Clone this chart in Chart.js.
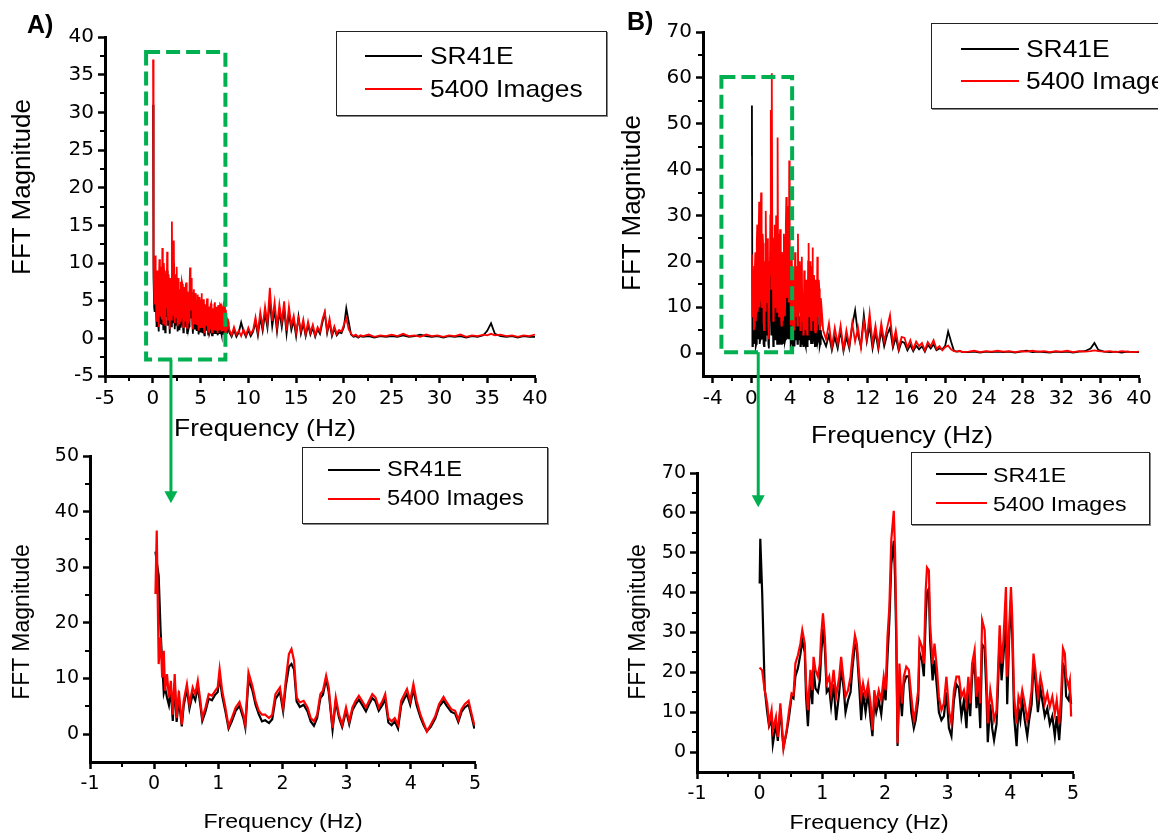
<!DOCTYPE html>
<html lang="en">
<head>
<meta charset="utf-8">
<title>FFT Magnitude - SR41E vs 5400 Images</title>
<script src="https://cdn.jsdelivr.net/npm/chart.js@4.4.1/dist/chart.umd.min.js"></script>
<style>
  html, body { margin: 0; padding: 0; background: #fff; }
  body { position: relative; width: 1158px; height: 837px; overflow: hidden; font-family: "Liberation Sans", Arial, sans-serif; color: #000; }
  .panel { position: absolute; }
  .panel canvas { display: block; }
  .txt { position: absolute; white-space: nowrap; line-height: 1; z-index: 4; }
  .xtitle { transform: translate(-50%, -50%) scaleX(1.1); }
  .ytitle { transform: translate(-50%, -50%) rotate(-90deg); }
  .tag { font-weight: bold; font-size: 25px; }
  .legend { position: absolute; border: 1.5px solid #222; background: #fff; box-shadow: 1px 1px 0 #888; z-index: 3; }
  .legend .ln { position: absolute; }
  .legend .lt { position: absolute; white-space: nowrap; line-height: 1; transform: translateY(-50%) scaleX(1.1); transform-origin: left center; }
  #setas { position: absolute; left: 0; top: 0; z-index: 2; pointer-events: none; }
</style>
</head>
<body>

<div class="txt tag" style="left:27px; top:12px;">A)</div>
<div class="txt tag" style="left:627px; top:9px;">B)</div>

<div class="txt ytitle" style="left:21px; top:187px; font-size:26px;">FFT Magnitude</div>
<div class="txt xtitle" style="left:265px; top:428px; font-size:24px;">Frequency (Hz)</div>
<div class="txt ytitle" style="left:631px; top:203px; font-size:26px;">FFT Magnitude</div>
<div class="txt xtitle" style="left:902px; top:435px; font-size:24px;">Frequency (Hz)</div>
<div class="txt ytitle" style="left:21px; top:622px; font-size:23px;">FFT Magnitude</div>
<div class="txt xtitle" style="left:283px; top:820px; font-size:21px;">Frequency (Hz)</div>
<div class="txt ytitle" style="left:637px; top:622px; font-size:23px;">FFT Magnitude</div>
<div class="txt xtitle" style="left:869px; top:821px; font-size:21px;">Frequency (Hz)</div>

<svg id="setas" width="1158" height="837"></svg>

<script>
// the two series in every panel
const seriesNames = ['SR41E', '5400 Images'];
const seriesColors = ['#000000', '#ff0000'];
const boxColor = '#00b050';

// ---- A) full spectrum, 0-40 Hz ----
const aFullFreq = [
  0.03, 0.06,
  0.1, 0.15, 0.2, 0.25, 0.3, 0.35, 0.4, 0.45, 0.5, 0.55, 0.6, 0.65, 0.7, 0.75, 0.8, 0.85, 0.9, 0.95,
  1.0, 1.05, 1.1, 1.15, 1.2, 1.25, 1.3, 1.35, 1.4, 1.45, 1.5, 1.55, 1.6, 1.65, 1.7, 1.75, 1.8, 1.85, 1.9, 1.95,
  2.0, 2.05, 2.1, 2.15, 2.2, 2.25, 2.3, 2.35, 2.4, 2.45, 2.5, 2.55, 2.6, 2.65, 2.7, 2.75, 2.8, 2.85, 2.9, 2.95,
  3.0, 3.05, 3.1, 3.15, 3.2, 3.25, 3.3, 3.35, 3.4, 3.45, 3.5, 3.55, 3.6, 3.65, 3.7, 3.75, 3.8, 3.85, 3.9, 3.95,
  4.0, 4.05, 4.1, 4.15, 4.2, 4.25, 4.3, 4.35, 4.4, 4.45, 4.5, 4.55, 4.6, 4.65, 4.7, 4.75, 4.8, 4.85, 4.9, 4.95,
  5.0, 5.05, 5.1, 5.15, 5.2, 5.25, 5.3, 5.35, 5.4, 5.45, 5.5, 5.55, 5.6, 5.65, 5.7, 5.75, 5.8, 5.85, 5.9, 5.95,
  6.0, 6.05, 6.1, 6.15, 6.2, 6.25, 6.3, 6.35, 6.4, 6.45, 6.5, 6.55, 6.6, 6.65, 6.7, 6.75, 6.8, 6.85, 6.9, 6.95,
  7.0, 7.05, 7.1, 7.15, 7.2, 7.25, 7.3, 7.35, 7.4, 7.45, 7.5, 7.55, 7.6, 7.65, 7.7, 7.75, 7.8, 7.85, 7.9, 7.95,
  8.0, 8.25, 8.5, 8.75, 9.0, 9.25, 9.5, 9.75, 10.0,
  10.25, 10.5, 10.75, 11.0, 11.25, 11.5, 11.75, 12.0, 12.25, 12.5,
  12.75, 13.0, 13.25, 13.5, 13.75, 14.0, 14.25, 14.5, 14.75, 15.0,
  15.25, 15.5, 15.75, 16.0, 16.25, 16.5, 16.75, 17.0, 17.25, 17.5,
  17.75, 18.0, 18.25, 18.5, 18.75, 19.0, 19.25, 19.5, 19.75, 20.0,
  20.25, 20.5, 20.75, 21.0, 21.25, 21.5, 21.75,
  22.0, 22.6, 23.2, 23.8, 24.4, 25.0, 25.6, 26.2, 26.8, 27.4,
  28.0, 28.6, 29.2, 29.8, 30.4, 31.0, 31.6, 32.2, 32.8, 33.4,
  34.0, 34.6, 35.0, 35.4, 35.8, 36.4, 37.0, 37.6, 38.2, 38.8,
  39.4, 40.0
];
const aFullSR41E = [
  31, 14,
  8, 4, 3.5, 8.5, 7.5, 3.5, 1.5, 7, 6.5, 2.4, 0.9, 5.5, 8, 3, 2, 7.5, 4.5, 1.8,
  9.5, 3.8, 1.2, 8, 6.5, 2.5, 0.8, 5.8, 7, 2.8, 9, 4.5, 1.8, 6.5, 5.5, 2, 0.6, 6, 5, 1.6,
  12.5, 3.8, 2, 7, 10, 3.4, 1.2, 6.5, 5.5, 1.8, 7.5, 3.4, 0.9, 6, 4.5, 1.2, 1.5, 5, 6, 1.4,
  2.4, 5.8, 5.5, 2.2, 0.8, 4.6, 5.2, 1.5, 2, 5.4, 5.8, 2.2, 0.7, 4.8, 4.2, 1.3, 1.6, 5.4, 7.2, 3,
  2.8, 6.2, 5.4, 1.8, 0.6, 4.2, 5, 1.3, 1.8, 4.6, 4, 1.5, 1, 3.8, 4.4, 1.5, 0.5, 4.2, 3.4, 0.9,
  1.2, 4, 4.6, 1.7, 0.8, 3.5, 4, 1.1, 0.4, 3.4, 3, 1, 1.4, 3.6, 4, 1.3, 0.5, 3.2, 2.9, 0.7,
  0.9, 3.3, 3.5, 1, 0.4, 3, 2.4, 0.7, 1.1, 3.4, 3.6, 1.1, 0.6, 2.9, 3.2, 0.9, 0.4, 3.3, 2.7, 0.7,
  0.9, 3.4, 3.3, 0.8, 0.5, 3.1, 2.9, 0.6, 0.7, 3.5, 3.7, 0.9, 0.3, 2.8, 1.7, 0.6, 1.2, 1.9, 1.6, 1.1,
  0.8, 0.2, 1.1, 0.2, 0.8, 2.1, 0.9, 0.2, 1.1,
  0.3, 0.9, 2.2, 0.4, 2.8, 1.0, 3.3, 1.4, 5.0, 1.6,
  3.8, 0.9, 3.6, 1.5, 3.9, 0.6, 3.4, 1.1, 2.4, 0.3,
  2.9, 0.6, 2.0, 0.3, 1.8, 0.5, 1.4, 0.2, 1.2, 0.6,
  2.1, 3.4, 0.7, 2.2, 0.3, 1.3, 0.4, 0.8, 0.7, 1.5,
  4.0, 2.2, 0.5, 0.2, 0.3, 0.1, 0.3,
  0.2, 0.3, 0.1, 0.3, 0.2, 0.3, 0.2, 0.4, 0.2, 0.3,
  0.5, 0.3, 0.2, 0.3, 0.1, 0.3, 0.2, 0.3, 0.1, 0.3,
  0.2, 0.4, 1.0, 2.0, 0.6, 0.3, 0.2, 0.3, 0.1, 0.3,
  0.2, 0.2
];
const aFullImages = [
  37, 15.3,
  10, 5.5, 4.5, 11, 9.5, 5, 2.2, 9, 8, 3.5, 1.5, 7, 10.5, 4, 3, 9.5, 6, 2.5,
  12, 5, 2, 10, 8.5, 3.5, 1.8, 7.5, 9, 4, 11.5, 6, 2.5, 8.5, 7.5, 3, 1.2, 8, 6.5, 2.5,
  15.5, 5, 3, 9, 13, 4.5, 2, 8.5, 7, 2.8, 9.5, 4.5, 1.6, 8, 6, 2, 2.5, 6.5, 7.5, 2.2,
  3.2, 7.5, 7.2, 3, 1.5, 6, 6.8, 2.2, 2.8, 7, 7.4, 3, 1.4, 6.2, 5.5, 2, 2.5, 7, 9.4, 4,
  3.8, 8, 7, 2.5, 1.2, 5.5, 6.5, 2, 2.6, 6, 5.3, 2.2, 1.8, 5, 5.8, 2.2, 1.0, 5.5, 4.5, 1.5,
  2.0, 5.2, 6.0, 2.4, 1.5, 4.6, 5.2, 1.8, 0.8, 4.5, 4.0, 1.6, 2.2, 4.8, 5.3, 2, 0.9, 4.2, 3.8, 1.2,
  1.5, 4.4, 4.6, 1.6, 0.8, 4, 3.2, 1.2, 1.8, 4.5, 4.8, 1.8, 1.0, 3.8, 4.2, 1.5, 0.7, 4.4, 3.6, 1.2,
  1.5, 4.5, 4.4, 1.4, 0.9, 4.1, 3.9, 1.1, 1.2, 4.6, 4.9, 1.5, 0.6, 3.8, 2.3, 1.0, 1.8, 2.6, 2.2, 1.6,
  1.2, 0.4, 1.5, 0.5, 1.0, 0.3, 1.2, 0.4, 1.4,
  0.6, 1.1, 2.8, 0.8, 3.5, 1.5, 4.2, 2.0, 6.7, 2.3,
  4.8, 1.5, 4.5, 2.2, 4.9, 1.0, 4.2, 1.7, 3.0, 0.7,
  2.6, 1.0, 2.5, 0.5, 2.2, 0.8, 1.8, 0.4, 1.5, 0.9,
  2.5, 3.5, 1.0, 2.6, 0.5, 1.6, 0.6, 1.1, 0.9, 1.8,
  2.7, 1.2, 0.6, 0.3, 0.5, 0.2, 0.4,
  0.3, 0.5, 0.2, 0.4, 0.3, 0.5, 0.3, 0.6, 0.3, 0.4,
  0.2, 0.5, 0.3, 0.4, 0.2, 0.4, 0.3, 0.5, 0.2, 0.4,
  0.3, 0.5, 0.4, 0.6, 0.4, 0.5, 0.3, 0.4, 0.2, 0.4,
  0.3, 0.5
];
const aFullXTicks = [-5, 0, 5, 10, 15, 20, 25, 30, 35, 40];
const aFullYTicks = [-5, 0, 5, 10, 15, 20, 25, 30, 35, 40];
const aFullXMinor = [-2.5, 2.5, 7.5, 12.5, 17.5, 22.5, 27.5, 32.5, 37.5];
const aFullYMinor = [-2.5, 2.5, 7.5, 12.5, 17.5, 22.5, 27.5, 32.5, 37.5];

// ---- B) full spectrum, 0-40 Hz ----
const bFullFreq = [
  0.0, 0.05, 0.1, 0.15, 0.2, 0.25, 0.3, 0.35, 0.4, 0.45, 0.5, 0.55, 0.6, 0.65, 0.7, 0.75, 0.8, 0.85, 0.9, 0.95,
  1.0, 1.05, 1.1, 1.15, 1.2, 1.25, 1.3, 1.35, 1.4, 1.45, 1.5, 1.55, 1.6, 1.65, 1.7, 1.75, 1.8, 1.85, 1.9, 1.95,
  2.0, 2.05, 2.1, 2.15, 2.2, 2.25, 2.3, 2.35, 2.4, 2.45, 2.5, 2.55, 2.6, 2.65, 2.7, 2.75, 2.8, 2.85, 2.9, 2.95,
  3.0, 3.05, 3.1, 3.15, 3.2, 3.25, 3.3, 3.35, 3.4, 3.45, 3.5, 3.55, 3.6, 3.65, 3.7, 3.75, 3.8, 3.85, 3.9, 3.95,
  4.0, 4.05, 4.1, 4.15, 4.2, 4.25, 4.3, 4.35, 4.4, 4.45, 4.5, 4.55, 4.6, 4.65, 4.7, 4.75, 4.8, 4.85, 4.9, 4.95,
  5.0, 5.05, 5.1, 5.15, 5.2, 5.25, 5.3, 5.35, 5.4, 5.45, 5.5, 5.55, 5.6, 5.65, 5.7, 5.75, 5.8, 5.85, 5.9, 5.95,
  6.0, 6.05, 6.1, 6.15, 6.2, 6.25, 6.3, 6.35, 6.4, 6.45, 6.5, 6.55, 6.6, 6.65, 6.7, 6.75, 6.8, 6.85, 6.9, 6.95,
  7.0, 7.05, 7.1, 7.15, 7.2, 7.4, 7.7, 8.0, 8.3, 8.6, 8.9,
  9.2, 9.5, 9.8, 10.1, 10.4, 10.7, 11.0, 11.3, 11.6, 11.9,
  12.2, 12.5, 12.8, 13.1, 13.4, 13.7, 14.0, 14.3, 14.6, 14.9,
  15.2, 15.5, 15.8, 16.1, 16.4, 16.7, 17.0, 17.3, 17.6, 17.9,
  18.2, 18.5, 18.8, 19.1, 19.4, 19.7, 20.0, 20.3, 20.6, 20.9,
  21.2, 21.5, 21.8, 22.4, 23.0, 23.6, 24.2, 24.8, 25.4, 26.0,
  26.6, 27.2, 27.8, 28.4, 29.0, 29.6, 30.2, 30.8, 31.4, 32.0,
  32.6, 33.2, 33.8, 34.4, 35.0, 35.4, 35.8, 36.4, 37.0, 37.6,
  38.2, 38.8, 39.4, 40.0
];
const bFullSR41E = [
  43, 54, 1.5, 10, 15.5, 2, 4, 11, 9, 1.5, 2, 10, 14, 3, 5, 12, 11, 2, 3, 9,
  13, 3, 4, 10, 9, 2, 1.5, 9, 8, 2.5, 15, 4, 5, 11, 10, 2, 1, 8, 7, 12,
  19, 4, 22, 8, 9, 1.5, 2, 10, 11, 3, 5, 12, 9, 2, 17, 6, 10, 2, 4, 10,
  11, 3, 2, 9, 8, 2, 4, 11, 10, 2.5, 3, 11, 12, 3, 5, 12, 13, 3, 16, 5,
  8, 2, 2.5, 8, 7, 1.5, 1.5, 7, 6, 1.5, 9, 3, 3, 8, 6, 2, 10, 3, 4, 8,
  7, 1.5, 2, 7, 8, 2, 5, 1.5, 3, 7, 7, 2, 1.5, 6, 6, 1.5, 2.5, 8, 9, 3,
  5, 8, 7, 2, 2, 8, 9, 2, 4, 7, 6, 1.5, 1.5, 6, 5, 1.5, 8, 2.5, 3, 6,
  6, 1.5, 2, 5, 4, 3, 1.5, 4, 0.6, 3.5, 1,
  5, 0.4, 3.5, 1, 6, 9.3, 4, 1.5, 8.3, 2.5,
  6, 1, 4.5, 0.8, 5, 1.5, 4, 5.5, 1.2, 3.5,
  0.5, 2.5, 2.2, 0.6, 1.8, 0.4, 1.6, 0.8, 1.5, 0.3,
  1.8, 1, 1.9, 0.6, 1.0, 0.8, 1.6, 4.7, 2.5, 0.5,
  0.3, 0.4, 0.2, 0.2, 0.3, 0.1, 0.3, 0.2, 0.3, 0.2,
  0.3, 0.1, 0.3, 0.5, 0.2, 0.3, 0.2, 0.1, 0.3, 0.2,
  0.3, 0.1, 0.3, 0.4, 1.0, 2.2, 0.7, 0.3, 0.2, 0.3,
  0.1, 0.3, 0.2, 0.2
];
const bFullImages = [
  21, 21.5, 8, 19, 16, 5, 6, 18, 22, 7, 9, 24, 28, 9, 12, 27, 33, 10, 14, 30,
  35, 12, 10, 26, 24, 7, 5, 20, 19, 9, 31, 14, 11, 25, 23, 6, 3, 20, 17, 30,
  53, 14, 61, 25, 20, 7, 8, 25, 28, 10, 14, 30, 22, 9, 47, 18, 26, 8, 12, 27,
  24, 9, 6, 22, 20, 7, 10, 26, 23, 8, 13, 28, 34, 12, 16, 30, 32, 11, 42, 15,
  20, 6, 10, 21, 18, 4, 5, 17, 14, 5, 22, 10, 8, 19, 15, 6, 26, 9, 11, 20,
  17, 5, 6, 19, 21, 7, 13, 4, 9, 18, 17, 6, 5, 16, 14, 4, 7, 20, 24, 8,
  12, 20, 18, 5, 6, 19, 23, 7, 10, 17, 15, 5, 4.5, 16, 12, 5, 21, 8, 9, 16,
  14, 5, 6, 12, 11, 5, 3, 6.5, 1.2, 5.5, 2,
  6, 0.8, 5, 1.5, 6.5, 2.5, 5.5, 1.2, 7, 3,
  8.7, 2, 6, 1.5, 6.5, 2.5, 5.5, 8.3, 2, 5,
  1, 3.5, 3.3, 1.2, 2.8, 0.8, 2.5, 1.5, 2.2, 0.6,
  2.4, 1.5, 2.8, 0.9, 1.5, 0.6, 1.3, 1.6, 0.8, 0.4,
  0.3, 0.5, 0.2, 0.3, 0.5, 0.2, 0.4, 0.3, 0.5, 0.3,
  0.4, 0.2, 0.4, 0.3, 0.5, 0.3, 0.4, 0.2, 0.4, 0.3,
  0.5, 0.2, 0.4, 0.3, 0.4, 0.6, 0.4, 0.3, 0.4, 0.2,
  0.4, 0.3, 0.2, 0.3
];
const bFullXTicks = [-4, 0, 4, 8, 12, 16, 20, 24, 28, 32, 36, 40];
const bFullYTicks = [0, 10, 20, 30, 40, 50, 60, 70];
const bFullXMinor = [-2, 2, 6, 10, 14, 18, 22, 26, 30, 34, 38];
const bFullYMinor = [5, 15, 25, 35, 45, 55, 65];

// ---- A) zoom, 0-5 Hz ----
const aZoomFreq = [
  0.02, 0.04, 0.07, 0.10, 0.125, 0.15, 0.17, 0.20, 0.23, 0.26,
  0.29, 0.32, 0.35, 0.385, 0.43, 0.46, 0.51, 0.55, 0.60, 0.64,
  0.68, 0.72, 0.75, 0.80, 0.85, 0.90, 0.95, 0.99, 1.02, 1.06,
  1.11, 1.16, 1.21, 1.27, 1.33, 1.39, 1.42, 1.47, 1.53, 1.58,
  1.63, 1.68, 1.73, 1.79, 1.84, 1.89, 1.96, 2.01, 2.05, 2.10,
  2.14, 2.18, 2.22, 2.27, 2.33, 2.39, 2.44, 2.49, 2.54, 2.59,
  2.63, 2.68, 2.72, 2.78, 2.83, 2.88, 2.93, 2.99, 3.04, 3.09,
  3.14, 3.19, 3.24, 3.30, 3.35, 3.40, 3.45, 3.50, 3.56, 3.60,
  3.65, 3.70, 3.75, 3.80, 3.85, 3.90, 3.94, 3.99, 4.04, 4.09,
  4.15, 4.20, 4.25, 4.31, 4.38, 4.44, 4.51, 4.56, 4.63, 4.69,
  4.74, 4.79, 4.84, 4.90, 4.95, 4.99
];
const aZoomSR41E = [
  32.8, 31.0, 28.5, 18.6, 12.8, 7.4, 8.3, 6.6, 5.2, 8.1,
  2.4, 9.2, 2.2, 6.3, 1.4, 5.1, 8.2, 4.6, 7.2, 6.1,
  8.6, 5.2, 2.4, 4.1, 6.4, 6.1, 7.1, 7.6, 10.3, 6.9,
  4.1, 1.0, 2.3, 4.2, 5.1, 2.9, 1.2, 9.8, 7.9, 5.3,
  3.6, 2.3, 2.5, 2.0, 2.7, 6.3, 7.6, 4.1, 8.5, 12.1,
  12.6, 11.6, 5.9, 4.9, 5.3, 4.1, 2.3, 1.5, 2.9, 6.5,
  7.1, 9.9, 7.6, 0.8, 5.9, 3.0, 1.3, 4.2, 1.8, 4.3,
  5.4, 6.2, 5.3, 4.1, 5.4, 6.5, 5.9, 4.2, 5.3, 6.4,
  2.1, 1.6, 2.3, 1.0, 5.2, 6.4, 7.2, 5.3, 8.1, 5.2,
  3.0, 1.6, 0.5, 1.3, 2.8, 4.9, 6.0, 5.1, 4.0, 3.7,
  2.2, 4.0, 4.8, 5.3, 3.0, 1.0
];
const aZoomImages = [
  25.2, 36.6, 12.6, 17.4, 10.2, 15, 7.8, 10.8, 6.6, 9.6,
  3.5, 10.8, 2.9, 7.8, 1.7, 6, 9, 5.4, 8.4, 7.2,
  9.6, 6, 2.9, 4.8, 7.2, 6.9, 7.8, 8.4, 11.7, 7.8,
  4.8, 1.4, 2.9, 4.8, 5.8, 3.5, 1.7, 11.1, 8.7, 6,
  4.2, 3.5, 3.5, 2.9, 3.5, 7.2, 8.4, 4.8, 9.6, 14.4,
  15.3, 13.2, 6.6, 5.7, 6, 4.8, 2.9, 2.3, 3.5, 7.2,
  7.8, 10.5, 8.4, 1.1, 6.6, 3.5, 1.7, 4.8, 2.3, 4.8,
  6, 6.9, 6, 4.8, 6, 7.2, 6.6, 4.8, 6, 7.2,
  2.9, 2.3, 2.9, 1.7, 6, 7.2, 8.1, 6, 9, 6,
  3.5, 2, 0.5, 1.7, 3.2, 5.4, 6.7, 5.7, 4.5, 4.2,
  2.6, 4.5, 5.4, 6, 3.5, 1.6
];
const aZoomXTicks = [-1, 0, 1, 2, 3, 4, 5];
const aZoomYTicks = [0, 10, 20, 30, 40, 50];
const aZoomXMinor = [-0.5, 0.5, 1.5, 2.5, 3.5, 4.5];
const aZoomYMinor = [5, 15, 25, 35, 45];

// ---- B) zoom, 0-5 Hz ----
const bZoomFreq = [
  0.0, 0.01, 0.04, 0.08, 0.12, 0.15, 0.19, 0.21, 0.26, 0.29, 0.33,
  0.36, 0.38, 0.43, 0.47, 0.51, 0.54, 0.57, 0.61, 0.65, 0.68,
  0.72, 0.74, 0.77, 0.81, 0.84, 0.86, 0.89, 0.93, 0.96, 0.98,
  1.01, 1.04, 1.07, 1.11, 1.14, 1.18, 1.22, 1.27, 1.30, 1.34,
  1.37, 1.41, 1.45, 1.48, 1.52, 1.55, 1.59, 1.62, 1.65, 1.69,
  1.73, 1.77, 1.80, 1.83, 1.86, 1.90, 1.94, 1.98, 2.01, 2.04,
  2.07, 2.10, 2.14, 2.16, 2.18, 2.20, 2.23, 2.27, 2.30, 2.34,
  2.38, 2.42, 2.46, 2.49, 2.53, 2.55, 2.59, 2.62, 2.65, 2.67,
  2.70, 2.72, 2.76, 2.79, 2.83, 2.86, 2.90, 2.94, 2.98, 3.02,
  3.06, 3.10, 3.14, 3.18, 3.22, 3.26, 3.30, 3.33, 3.36, 3.39,
  3.43, 3.46, 3.49, 3.52, 3.55, 3.59, 3.62, 3.64, 3.68, 3.71,
  3.74, 3.78, 3.80, 3.83, 3.86, 3.89, 3.93, 3.95, 3.98, 4.01,
  4.03, 4.06, 4.10, 4.13, 4.16, 4.19, 4.23, 4.27, 4.30, 4.34,
  4.37, 4.40, 4.44, 4.48, 4.51, 4.55, 4.59, 4.63, 4.67, 4.71,
  4.74, 4.78, 4.81, 4.84, 4.87, 4.89, 4.93, 4.95, 4.97
];
const bZoomSR41E = [
  42.3, 53.5, 40, 16, 10, 6.5, 8, 2, 7, 2.8, 11,
  4.5, 1.2, 5, 9, 14, 13.5, 19, 21, 24.5, 28,
  25, 14, 6.5, 18.5, 12, 21, 16, 15, 18, 24,
  31, 26, 15, 16, 11.5, 17, 8, 15, 21, 16,
  10, 13, 15, 21, 27, 26, 16, 8, 15, 10,
  15, 8, 4, 13, 10, 13, 9.5, 16, 13, 24,
  33, 47, 53, 44, 28, 1.5, 18, 9, 17, 19,
  19, 10, 6, 8, 13, 25, 23, 19, 34, 40,
  41, 28, 18, 23, 16, 10, 8, 9, 15, 6,
  4, 13, 17, 16, 9, 13, 6, 16, 9, 19,
  23, 11, 16, 6, 27, 26, 14, 2.5, 12, 6,
  3, 7, 15, 29, 18, 24, 33, 12, 28, 38,
  30, 9, 1.5, 11, 8, 13, 8, 4, 8, 12,
  22, 18, 10, 16, 13, 9, 11, 7, 9, 4,
  9, 3, 10, 22, 21, 14, 13, 15, 12
];
const bZoomImages = [
  20.8, 21, 20.5, 15.5, 12.2, 7.2, 10.5, 5.5, 8.9, 3.8, 12.2,
  5.5, 0.9, 5.5, 10.5, 14.7, 14.3, 22.2, 24.3, 27.2, 30.6,
  27.2, 17.2, 10.5, 20.6, 15.5, 23.9, 20.6, 18.9, 22.2, 28.9,
  34.8, 28.9, 17.2, 18.9, 14.7, 20.6, 13.9, 18.9, 23.9, 18,
  13.9, 15.5, 18.9, 23.9, 29.3, 27.2, 18.9, 13.9, 17.2, 13.9,
  17.2, 12.2, 5.5, 15.5, 12.2, 15.5, 13, 18.9, 15.5, 28.9,
  36.4, 53.1, 60.5, 50.5, 32.2, 2.2, 22.2, 12.2, 18.9, 21.4,
  20.6, 13.9, 8, 10.5, 15.5, 28.1, 26.4, 22.2, 40.6, 46.3,
  45.6, 32.2, 22.2, 27.2, 20.6, 13.9, 10.5, 12.2, 18.9, 10.5,
  7.2, 15.5, 18.9, 18.9, 13.9, 15.5, 12.2, 18.9, 12.2, 22.2,
  25.6, 13.9, 18.9, 12.2, 33.1, 30.6, 18.9, 7.2, 15.5, 12.2,
  8, 10.5, 18.9, 31.8, 22.2, 28.1, 41.4, 18.9, 30.6, 41.4,
  33.9, 13.9, 7.2, 13.9, 12.2, 15.5, 12.2, 8, 10.5, 15.5,
  24.7, 20.6, 13.9, 18.9, 16.4, 12.2, 14.7, 11.4, 13.9, 9.7,
  13, 7.2, 13.9, 26, 24.7, 18.9, 16.4, 18, 8.9
];
const bZoomXTicks = [-1, 0, 1, 2, 3, 4, 5];
const bZoomYTicks = [0, 10, 20, 30, 40, 50, 60, 70];
const bZoomXMinor = [-0.5, 0.5, 1.5, 2.5, 3.5, 4.5];
const bZoomYMinor = [5, 15, 25, 35, 45, 55, 65];

function toPoints(xs, ys) {
    return xs.map((x, i) => ({ x: x, y: ys[i] }));
}

// small outward ticks between the labelled ones
const minorTicks = {
    id: 'minorTicks',
    afterDraw(chart, args, opts) {
        if (!opts.x) return;
        const ctx = chart.ctx;
        const area = chart.chartArea;
        const sx = chart.scales.x, sy = chart.scales.y;
        ctx.save();
        ctx.strokeStyle = '#000';
        ctx.lineWidth = 2;
        ctx.beginPath();
        opts.x.forEach(v => {
            const px = Math.round(sx.getPixelForValue(v));
            ctx.moveTo(px, area.bottom);
            ctx.lineTo(px, area.bottom + 5);
        });
        opts.y.forEach(v => {
            const py = Math.round(sy.getPixelForValue(v));
            ctx.moveTo(area.left, py);
            ctx.lineTo(area.left - 5, py);
        });
        ctx.stroke();
        ctx.restore();
    }
};

// green dashed box that marks the zoomed part
const zoomBox = {
    id: 'zoomBox',
    afterDatasetsDraw(chart, args, opts) {
        if (opts.x0 === undefined) return;
        const sx = chart.scales.x, sy = chart.scales.y;
        const left = sx.getPixelForValue(opts.x0);
        const right = sx.getPixelForValue(opts.x1);
        const top = sy.getPixelForValue(opts.y1);
        const bottom = sy.getPixelForValue(opts.y0);
        const ctx = chart.ctx;
        ctx.save();
        ctx.strokeStyle = boxColor;
        ctx.lineWidth = 4;
        ctx.setLineDash([14, 6]);
        ctx.strokeRect(left, top, right - left, bottom - top);
        ctx.restore();
    }
};

function axis(min, max, ticks, fontSize, size, isY) {
    return {
        type: 'linear',
        min: min,
        max: max,
        afterBuildTicks: s => { s.ticks = ticks.map(v => ({ value: v })); },
        afterFit: s => { if (isY) s.width = size; else s.height = size; },
        ticks: {
            font: { family: 'DejaVu Sans', size: fontSize },
            color: '#000',
            padding: 4,
            maxRotation: 0,
            autoSkip: false,
            callback: v => String(v)
        },
        grid: { drawOnChartArea: false, drawTicks: true, tickLength: 7, tickWidth: 2.5, tickColor: '#000' },
        border: { display: true, color: '#000', width: 3 }
    };
}

function makePanel(p) {
    const wrap = document.createElement('div');
    wrap.className = 'panel';
    wrap.style.left = p.left + 'px';
    wrap.style.top = p.top + 'px';
    const canvas = document.createElement('canvas');
    canvas.width = p.width;
    canvas.height = p.height;
    wrap.appendChild(canvas);
    document.body.appendChild(wrap);

    return new Chart(canvas, {
        type: 'line',
        data: {
            datasets: [
                { label: seriesNames[0], data: toPoints(p.freq, p.sr), borderColor: seriesColors[0], borderWidth: p.line, order: 2 },
                { label: seriesNames[1], data: toPoints(p.freq, p.img), borderColor: seriesColors[1], borderWidth: p.line, order: 1 }
            ]
        },
        options: {
            responsive: false,
            animation: false,
            layout: { padding: p.pad },
            elements: { point: { radius: 0 }, line: { tension: 0, borderJoinStyle: 'miter' } },
            plugins: {
                legend: { display: false },
                tooltip: { enabled: false },
                minorTicks: { x: p.xMinor, y: p.yMinor },
                zoomBox: p.box || {}
            },
            scales: {
                x: axis(p.xMin, p.xMax, p.xTicks, p.font, p.xHeight, false),
                y: axis(p.yMin, p.yMax, p.yTicks, p.font, p.yWidth, true)
            }
        },
        plugins: [minorTicks, zoomBox]
    });
}

const aFull = makePanel({
    left: 0, top: 0, width: 570, height: 440,
    pad: { top: 37, right: 35, left: 0, bottom: 0 }, yWidth: 105, xHeight: 64,
    freq: aFullFreq, sr: aFullSR41E, img: aFullImages,
    xMin: -5, xMax: 40, yMin: -5, yMax: 40,
    xTicks: aFullXTicks, yTicks: aFullYTicks, xMinor: aFullXMinor, yMinor: aFullYMinor,
    font: 20, line: 1.8,
    box: { x0: -0.7, x1: 7.6, y0: -2.8, y1: 38 }
});

const bFull = makePanel({
    left: 590, top: 0, width: 568, height: 440,
    pad: { top: 32, right: 19, left: 0, bottom: 0 }, yWidth: 113, xHeight: 64,
    freq: bFullFreq, sr: bFullSR41E, img: bFullImages,
    xMin: -5, xMax: 40, yMin: -5, yMax: 70,
    xTicks: bFullXTicks, yTicks: bFullYTicks, xMinor: bFullXMinor, yMinor: bFullYMinor,
    font: 20, line: 1.8,
    box: { x0: -3.1, x1: 4.2, y0: 0.2, y1: 60.2 }
});

const aZoom = makePanel({
    left: 0, top: 440, width: 560, height: 397,
    pad: { top: 16, right: 85, left: 0, bottom: 0 }, yWidth: 90, xHeight: 75,
    freq: aZoomFreq, sr: aZoomSR41E, img: aZoomImages,
    xMin: -1, xMax: 5, yMin: -5, yMax: 50,
    xTicks: aZoomXTicks, yTicks: aZoomYTicks, xMinor: aZoomXMinor, yMinor: aZoomYMinor,
    font: 19, line: 2.2
});

const bZoom = makePanel({
    left: 590, top: 440, width: 568, height: 397,
    pad: { top: 33, right: 85, left: 0, bottom: 0 }, yWidth: 107, xHeight: 65,
    freq: bZoomFreq, sr: bZoomSR41E, img: bZoomImages,
    xMin: -1, xMax: 5, yMin: -5, yMax: 70,
    xTicks: bZoomXTicks, yTicks: bZoomYTicks, xMinor: bZoomXMinor, yMinor: bZoomYMinor,
    font: 19, line: 2.2
});

// boxed legends, filled from the datasets
function makeLegend(chart, l) {
    const box = document.createElement('div');
    box.className = 'legend';
    box.style.left = l.left + 'px';
    box.style.top = l.top + 'px';
    box.style.width = l.width + 'px';
    box.style.height = l.height + 'px';
    chart.data.datasets.forEach((ds, i) => {
        const ln = document.createElement('div');
        ln.className = 'ln';
        ln.style.left = l.lineLeft + 'px';
        ln.style.top = (l.rows[i] - l.stroke / 2) + 'px';
        ln.style.width = l.lineWidth + 'px';
        ln.style.height = l.stroke + 'px';
        ln.style.background = ds.borderColor;
        const lt = document.createElement('div');
        lt.className = 'lt';
        lt.style.left = l.textLeft + 'px';
        lt.style.top = l.rows[i] + 'px';
        lt.style.fontSize = l.font + 'px';
        lt.innerText = ds.label;
        box.appendChild(ln);
        box.appendChild(lt);
    });
    document.body.appendChild(box);
}

makeLegend(aFull, { left: 336, top: 31, width: 269, height: 83, lineLeft: 28, lineWidth: 57, textLeft: 93, rows: [24, 57], font: 24, stroke: 2 });
makeLegend(bFull, { left: 931, top: 23, width: 260, height: 84, lineLeft: 29, lineWidth: 58, textLeft: 94, rows: [25, 57], font: 24, stroke: 2 });
makeLegend(aZoom, { left: 302, top: 447, width: 244, height: 75, lineLeft: 25, lineWidth: 52, textLeft: 84, rows: [22, 51], font: 21.5, stroke: 2.5 });
makeLegend(bZoom, { left: 911, top: 452, width: 237, height: 71, lineLeft: 24, lineWidth: 51, textLeft: 81, rows: [21, 50], font: 21, stroke: 2.5 });

// arrows from each box down to its zoomed panel
function drawArrow(fromChart, fromTop, fromX, fromY, toChart, toTop, toY) {
    const ns = 'http://www.w3.org/2000/svg';
    const svg = document.getElementById('setas');
    const x = fromChart.scales.x.getPixelForValue(fromX) + fromChart.canvas.parentNode.offsetLeft;
    const y1 = fromTop + fromChart.scales.y.getPixelForValue(fromY);
    const y2 = toTop + toChart.scales.y.getPixelForValue(toY);

    const line = document.createElementNS(ns, 'line');
    line.setAttribute('x1', x);
    line.setAttribute('y1', y1);
    line.setAttribute('x2', x);
    line.setAttribute('y2', y2 - 10);
    line.setAttribute('stroke', boxColor);
    line.setAttribute('stroke-width', 3);
    svg.appendChild(line);

    const head = document.createElementNS(ns, 'polygon');
    head.setAttribute('points', (x - 6.5) + ',' + (y2 - 12) + ' ' + (x + 6.5) + ',' + (y2 - 12) + ' ' + x + ',' + y2);
    head.setAttribute('fill', boxColor);
    svg.appendChild(head);
}

drawArrow(aFull, 0, 1.9, -2.8, aZoom, 440, 41.5);
drawArrow(bFull, 0, 0.7, 0.2, bZoom, 440, 61.4);
</script>
</body>
</html>
